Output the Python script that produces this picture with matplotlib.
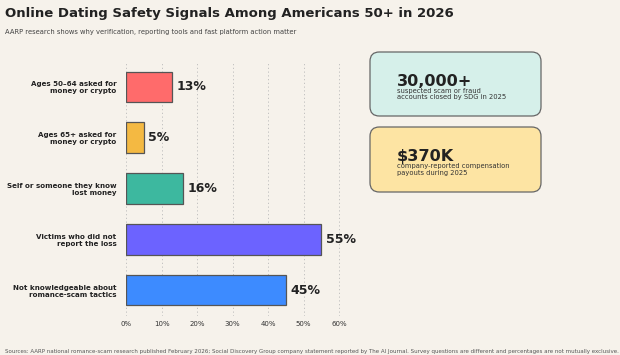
import numpy as np
import matplotlib
matplotlib.use("Agg")
import matplotlib.pyplot as plt
from matplotlib.patches import FancyBboxPatch

# ── data ─────────────────────────────────────────────────────────────────────
categories = [
    "Ages 50\u201364 asked for\nmoney or crypto",
    "Ages 65+ asked for\nmoney or crypto",
    "Self or someone they know\nlost money",
    "Victims who did not\nreport the loss",
    "Not knowledgeable about\nromance-scam tactics",
]
values = [13, 5, 16, 55, 45]
bar_colors = ["#FF6B6B", "#F4B942", "#3DB89F", "#6C63FF", "#3D8BFF"]
x_ticks = [0, 10, 20, 30, 40, 50, 60]

card_values = ["30,000+", "$370K"]
card_texts = ["suspected scam or fraud\naccounts closed by SDG in 2025",
              "company-reported compensation\npayouts during 2025"]
card_colors = ["#D6F0EA", "#FDE4A3"]

BG = "#F6F2EB"
W, H = 620, 355

fig = plt.figure(figsize=(W / 100, H / 100), dpi=100, facecolor=BG)

# ── bar panel ────────────────────────────────────────────────────────────────
ax = fig.add_axes([126 / W, 1 - 315.5 / H, (357 - 126) / W, (315.5 - 61.5) / H])
ax.set_facecolor(BG)
y = np.arange(len(categories))
ax.barh(y, values, height=0.6, color=bar_colors, edgecolor="#555555", linewidth=0.9, zorder=3)
for yi, v in zip(y, values):
    ax.text(v + 1.3, yi, f"{v}%", va="center", ha="left",
            fontsize=9, fontweight="bold", color="#222222", zorder=4)
ax.set_xlim(0, 65)
ax.set_ylim(len(categories) - 0.5, -0.5)
ax.set_yticks(y)
ax.set_yticklabels(categories, fontsize=5.1, fontweight="bold", color="#222222")
ax.set_xticks(x_ticks)
ax.set_xticklabels([f"{t}%" for t in x_ticks], fontsize=5, color="#333333")
ax.tick_params(length=0, pad=4)
ax.tick_params(axis="y", pad=7)
ax.grid(axis="x", ls=(0, (1.5, 3)), color="#BBBBBB", lw=0.6, zorder=0)
for s in ax.spines.values():
    s.set_visible(False)

# ── stat cards ───────────────────────────────────────────────────────────────
card_boxes = [(370, 52, 541, 116), (370, 127, 541, 192)]
for (x0, y0, x1, y1), big, small, col in zip(card_boxes, card_values, card_texts, card_colors):
    box = FancyBboxPatch((x0 / W, 1 - y1 / H), (x1 - x0) / W, (y1 - y0) / H,
                         boxstyle="round,pad=0,rounding_size=0.015",
                         transform=fig.transFigure, facecolor=col,
                         edgecolor="#666666", linewidth=0.9, mutation_aspect=W / H)
    fig.patches.append(box)
    cy = (y0 + y1) / 2
    fig.text(397 / W, 1 - (cy + 1.5) / H, big, fontsize=11.6, fontweight="bold",
             color="#222222", ha="left", va="baseline")
    fig.text(397 / W, 1 - (cy + 3.5) / H, small, fontsize=4.9, color="#333333",
             ha="left", va="top", linespacing=1.15)

# ── titles and source ────────────────────────────────────────────────────────
fig.text(5 / W, 1 - 13 / H, "Online Dating Safety Signals Among Americans 50+ in 2026",
         fontsize=9.5, fontweight="bold", color="#222222", ha="left", va="center")
fig.text(5 / W, 1 - 32 / H,
         "AARP research shows why verification, reporting tools and fast platform action matter",
         fontsize=4.9, color="#444444", ha="left", va="center")
fig.text(5 / W, 1 - 351 / H,
         "Sources: AARP national romance-scam research published February 2026; Social Discovery Group "
         "company statement reported by The AI Journal. Survey questions are different and percentages "
         "are not mutually exclusive.",
         fontsize=3.95, color="#555555", ha="left", va="center")

fig.savefig("out.png", dpi=100, facecolor=BG)
